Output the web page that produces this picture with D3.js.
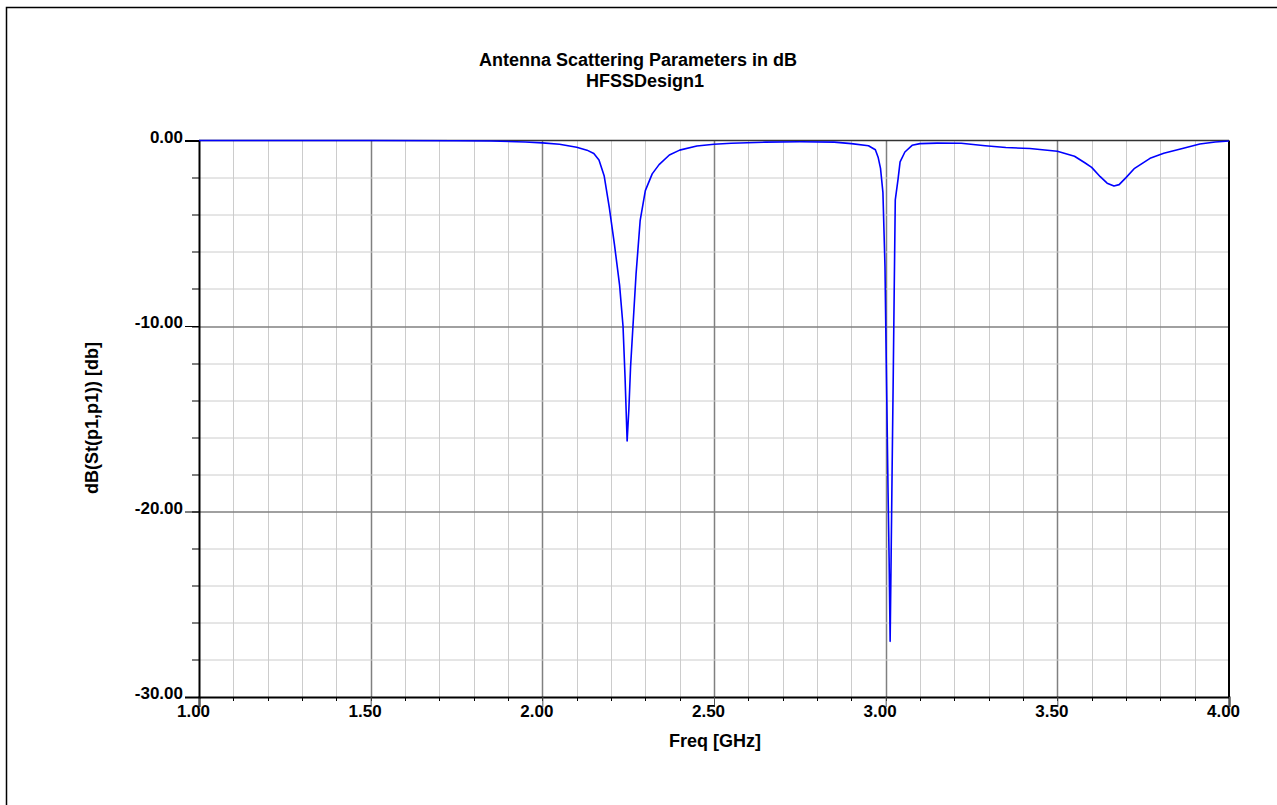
<!DOCTYPE html>
<html>
<head>
<meta charset="utf-8">
<script src="https://cdn.jsdelivr.net/npm/d3@7"></script>
<style>
  body { margin: 0; background: #fff; }
  text { font-family: "Liberation Sans", Arial, sans-serif; font-weight: bold; }
</style>
</head>
<body>
<div id="chart"></div>
<script>
// data: frequency in GHz, S11 in dB
var freq = [1.00, 1.25, 1.50, 1.75, 1.85, 1.95, 2.00, 2.05, 2.10, 2.13, 2.15, 2.165, 2.18, 2.195, 2.21, 2.225,
            2.235, 2.241, 2.247, 2.252, 2.257, 2.264, 2.273, 2.285, 2.30, 2.32, 2.34, 2.37, 2.40, 2.45, 2.50,
            2.55, 2.65, 2.75, 2.85, 2.90, 2.95, 2.97, 2.978, 2.985, 2.992, 2.998, 3.001, 3.004, 3.007, 3.010,
            3.013, 3.016, 3.019, 3.022, 3.025, 3.028, 3.036, 3.042, 3.056, 3.077, 3.10, 3.15, 3.22, 3.29,
            3.35, 3.42, 3.50, 3.55, 3.58, 3.60, 3.625, 3.645, 3.665, 3.68, 3.70, 3.725, 3.77, 3.81, 3.87,
            3.915, 3.96, 4.00];
var s11 = [0.00, 0.00, 0.00, -0.01, -0.03, -0.08, -0.13, -0.20, -0.36, -0.52, -0.70, -1.05, -1.9, -3.6, -5.6, -7.8,
           -10.0, -12.8, -16.2, -14.5, -12.2, -10.0, -7.2, -4.3, -2.7, -1.8, -1.3, -0.78, -0.52, -0.30, -0.20,
           -0.15, -0.09, -0.07, -0.09, -0.17, -0.28, -0.5, -0.9, -1.5, -2.8, -6.8, -10.9, -14.9, -19.0, -22.5,
           -27.0, -22.3, -17.4, -12.8, -7.9, -3.2, -2.1, -1.15, -0.62, -0.26, -0.17, -0.14, -0.15, -0.28,
           -0.38, -0.43, -0.58, -0.85, -1.2, -1.45, -1.95, -2.3, -2.45, -2.38, -2.0, -1.5, -0.96, -0.69, -0.40,
           -0.19, -0.08, -0.03];

var xMajor = [1.0, 1.5, 2.0, 2.5, 3.0, 3.5, 4.0];
var xTickLabels = ["1.00", "1.50", "2.00", "2.50", "3.00", "3.50", "4.00"];
var yMajor = [0, -10, -20, -30];
var yTickLabels = ["0.00", "-10.00", "-20.00", "-30.00"];

var title1 = "Antenna Scattering Parameters in dB",
    title2 = "HFSSDesign1",
    xLabel = "Freq [GHz]",
    yLabel = "dB(St(p1,p1)) [db]";

var W = 1277, H = 805;
var margin = {left: 199, right: 48, top: 140.5, bottom: 108};
var width = W - margin.left - margin.right,
    height = H - margin.top - margin.bottom;

var svg = d3.select("#chart").append("svg")
    .attr("width", W)
    .attr("height", H);

// outer frame
svg.append("rect")
   .attr("x", 6.5).attr("y", 7.5)
   .attr("width", 1400).attr("height", 1000)
   .attr("fill", "none").attr("stroke", "#000").attr("stroke-width", 1.5);

var g = svg.append("g").attr("transform", "translate(" + margin.left + "," + margin.top + ")");

var x = d3.scaleLinear().domain([1, 4]).range([0, width]);
var y = d3.scaleLinear().domain([-30, 0]).range([height, 0]);

var xMinor = d3.range(11, 40).map(function(d) { return d / 10; });
var yMinor = d3.range(-14, 0).map(function(d) { return d * 2; });

function isHalf(d) { return Math.abs(d * 2 - Math.round(d * 2)) < 1e-6; }

// grid
g.append("g").selectAll("line").data(xMinor).enter().append("line")
  .attr("x1", function(d) { return Math.round(x(d)) + 0.5; })
  .attr("x2", function(d) { return Math.round(x(d)) + 0.5; })
  .attr("y1", 0).attr("y2", height)
  .attr("stroke", function(d) { return isHalf(d) ? "#808080" : "#cccccc"; })
  .attr("stroke-width", function(d) { return isHalf(d) ? 1.5 : 1; });

g.append("g").selectAll("line").data(yMinor).enter().append("line")
  .attr("y1", function(d) { return Math.round(y(d)) + 0.5; })
  .attr("y2", function(d) { return Math.round(y(d)) + 0.5; })
  .attr("x1", 0).attr("x2", width)
  .attr("stroke", function(d) { return d % 10 === 0 ? "#808080" : "#cccccc"; })
  .attr("stroke-width", function(d) { return d % 10 === 0 ? 1.5 : 1; });

// top line at 0 dB
g.append("line").attr("x1", 0).attr("x2", width).attr("y1", 0).attr("y2", 0)
  .attr("stroke", "#333").attr("stroke-width", 1.5);
// right border
g.append("line").attr("x1", width).attr("x2", width).attr("y1", 0).attr("y2", height)
  .attr("stroke", "#000").attr("stroke-width", 2);

// minor ticks on axes
g.append("g").selectAll("line").data(xMinor).enter().append("line")
  .attr("x1", function(d) { return Math.round(x(d)) + 0.5; })
  .attr("x2", function(d) { return Math.round(x(d)) + 0.5; })
  .attr("y1", height).attr("y2", height + 4)
  .attr("stroke", "#000");
g.append("g").selectAll("line").data(yMinor).enter().append("line")
  .attr("y1", function(d) { return Math.round(y(d)) + 0.5; })
  .attr("y2", function(d) { return Math.round(y(d)) + 0.5; })
  .attr("x1", -7).attr("x2", 0)
  .attr("stroke", "#000");

// axes
var xAxis = d3.axisBottom(x).tickValues(xMajor).tickSize(10).tickPadding(4)
    .tickFormat(function(d, i) { return xTickLabels[i]; });
var gx = g.append("g").attr("transform", "translate(0," + height + ")").call(xAxis);
gx.select(".domain").attr("stroke", "#000").attr("stroke-width", 2);
gx.selectAll(".tick line").attr("stroke", "#555");
gx.selectAll(".tick text").attr("font-size", 17).attr("fill", "#000")
  .attr("font-family", "Liberation Sans, Arial, sans-serif").attr("dx", -6).attr("dy", "0.35em");

var yAxis = d3.axisLeft(y).tickValues(yMajor).tickSize(14).tickPadding(2)
    .tickFormat(function(d, i) { return yTickLabels[i]; });
var gy = g.append("g").call(yAxis);
gy.select(".domain").attr("stroke", "#000").attr("stroke-width", 2);
gy.selectAll(".tick line").attr("stroke", "#000");
gy.selectAll(".tick text").attr("font-size", 17).attr("fill", "#000")
  .attr("font-family", "Liberation Sans, Arial, sans-serif").attr("dy", "0.1em");

// the trace
var pts = freq.map(function(f, i) { return [f, s11[i]]; });
var line = d3.line()
    .x(function(d) { return x(d[0]); })
    .y(function(d) { return y(d[1]); });
g.append("path").datum(pts)
  .attr("d", line)
  .attr("fill", "none")
  .attr("stroke", "#0000ff")
  .attr("stroke-width", 1.6)
  .attr("stroke-linejoin", "round");

// titles
svg.append("text").attr("x", 638).attr("y", 66).attr("text-anchor", "middle")
   .attr("font-size", 18).text(title1);
svg.append("text").attr("x", 645).attr("y", 87).attr("text-anchor", "middle")
   .attr("font-size", 18).text(title2);

svg.append("text").attr("x", 715).attr("y", 747).attr("text-anchor", "middle")
   .attr("font-size", 18).text(xLabel);
svg.append("text").attr("transform", "translate(98,418) rotate(-90)")
   .attr("text-anchor", "middle").attr("font-size", 18).text(yLabel);
</script>
</body>
</html>
